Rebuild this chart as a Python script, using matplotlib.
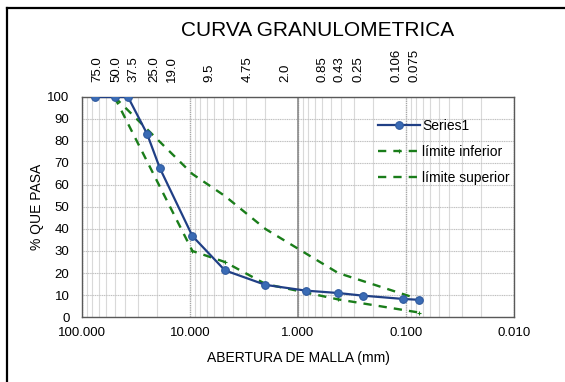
import matplotlib
matplotlib.use("Agg")
import matplotlib.pyplot as plt
from matplotlib.lines import Line2D
from matplotlib.ticker import FixedLocator, NullFormatter, FuncFormatter

plt.rcParams['font.family'] = ['Liberation Sans', 'DejaVu Sans']

# ---- data ----
sieve_mm = [75.0, 50.0, 37.5, 25.0, 19.0, 9.5, 4.75, 2.0, 0.85, 0.425, 0.25, 0.106, 0.075]
series1 = [100, 100, 100, 83.3, 67.6, 36.8, 21.2, 14.6, 12.0, 10.9, 9.7, 8.2, 7.8]

limit_mm = [50.0, 9.5, 4.75, 2.0, 0.425, 0.075]
lim_inf = [100, 30, 25, 15, 8, 2]
lim_sup = [100, 65, 55, 40, 20, 8]

top_labels = ["75.0", "50.0", "37.5", "25.0", "19.0", "9.5", "4.75", "2.0",
              "0.85", "0.43", "0.25", "0.106", "0.075"]
# layout: horizontal placement of the top labels (axes fraction)
top_label_frac = [0.036, 0.079, 0.118, 0.167, 0.208, 0.296, 0.384, 0.470,
                  0.556, 0.597, 0.639, 0.729, 0.769]

x_ticks = [100, 10, 1, 0.1, 0.01]
y_ticks = list(range(0, 101, 10))

W, H = 565, 382
fig = plt.figure(figsize=(W / 100, H / 100), dpi=100)
fig.patch.set_facecolor('white')

# outer frame (left/top edges visible)
fig.add_artist(Line2D([7 / W, 7 / W], [0, 1 - 8 / H], transform=fig.transFigure,
                      color='black', lw=1.6))
fig.add_artist(Line2D([7 / W, 1], [1 - 8 / H, 1 - 8 / H], transform=fig.transFigure,
                      color='black', lw=1.6))

ax = fig.add_axes([82 / W, 1 - 317 / H, 432 / W, 220 / H])
ax.set_xscale('log')
ax.set_xlim(100, 0.01)
ax.set_ylim(0, 100)

# grid
ax.xaxis.set_major_locator(FixedLocator(x_ticks))
ax.xaxis.set_major_formatter(FuncFormatter(lambda v, p: f"{v:.3f}"))
minors = [m * 10.0 ** e for e in range(-2, 2) for m in range(2, 10)]
ax.xaxis.set_minor_locator(FixedLocator(minors))
ax.xaxis.set_minor_formatter(NullFormatter())
ax.set_yticks(y_ticks)
ax.grid(which='minor', axis='x', color='#d9d9d9', lw=0.8)
ax.grid(which='major', axis='x', color='#a6a6a6', lw=1.0, ls=(0, (1, 0.6)))
ax.grid(which='major', axis='y', color='#bfbfbf', lw=0.8, ls=(0, (1, 0.6)))
ax.axvline(1, color='#8c8c8c', lw=1.2, zorder=1)
ax.set_axisbelow(True)

for s in ax.spines.values():
    s.set_color('#595959')
    s.set_linewidth(1.0)

ax.tick_params(axis='both', which='both', length=0, labelsize=9.5, colors='#000000')
ax.tick_params(axis='x', pad=7)
ax.tick_params(axis='y', pad=9)

ax.plot(sieve_mm, series1, '-o', color='#203f85', lw=1.6, ms=5.5,
        mfc='#3a6bb5', mec='#2f5a9e', mew=0.8, label='Series1', zorder=4)
ax.plot(limit_mm, lim_inf, ls=(0, (3.5, 3)), color='#1a7d1a', lw=1.7,
        marker='+', ms=3, mew=0.8, label='límite inferior', zorder=3)
ax.plot(limit_mm, lim_sup, ls=(0, (3.5, 3)), color='#1a7d1a', lw=1.7,
        label='límite superior', zorder=3)

ax.set_xlabel('ABERTURA DE MALLA (mm)', fontsize=10, labelpad=9)
ax.set_ylabel('% QUE PASA', fontsize=10, labelpad=2)

leg = ax.legend(loc='upper left', bbox_to_anchor=(0.672, 0.925), frameon=False,
                fontsize=10, handlelength=3.0, handletextpad=0.2, labelspacing=0.85,
                borderaxespad=0)

# top labels
ax2 = ax.twiny()
ax2.set_xlim(0, 1)
ax2.set_xticks(top_label_frac)
ax2.set_xticklabels(top_labels, rotation=90, fontsize=9.5)
ax2.tick_params(axis='x', length=0, pad=11)
for s in ax2.spines.values():
    s.set_visible(False)

fig.text(318 / W, 1 - 31 / H, 'CURVA GRANULOMETRICA', fontsize=15,
         ha='center', va='center')

fig.savefig('out.png', dpi=100)
